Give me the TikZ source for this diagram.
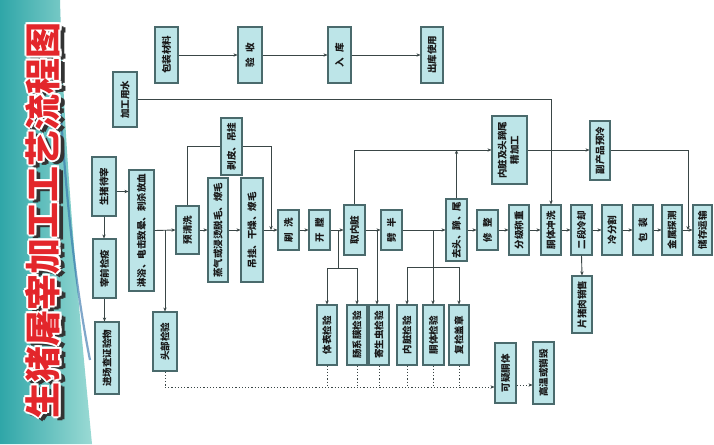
\documentclass[tikz,border=0pt]{standalone}
\usepackage{fontspec}
\setmainfont{Noto Sans CJK SC}
\usetikzlibrary{arrows.meta,calc}
\definecolor{boxfill}{HTML}{BDE5E8}
\definecolor{boxline}{HTML}{4A6A6C}
\definecolor{lin}{HTML}{3A4646}
\definecolor{tred}{HTML}{E3262B}
\definecolor{tealA}{HTML}{2FA6A8}
\definecolor{tealB}{HTML}{9ADAD4}
\definecolor{curveb}{HTML}{2C6DA8}
\newcommand\bx[6]{\node[box,minimum width={(#4)-(#2)},minimum height={(#5)-(#3)}] (#1) at ({((#2)+(#4))/2},{((#3)+(#5))/2}) {\rotatebox{90}{#6}};}
\begin{document}
\begin{tikzpicture}[x=1pt,y=-1pt,
  box/.style={draw=boxline,fill=boxfill,line width=1.1pt,inner sep=0pt,font=\fontsize{9.5}{10.5}\selectfont\bfseries,text=black!90},
  arr/.style={-{Stealth[length=4pt,width=3.4pt]}},
  ln/.style={draw=lin,line width=0.9pt},
  dt/.style={draw=lin,line width=0.9pt,dash pattern=on 1.2pt off 2pt},
  ttl/.style={rotate=90,inner sep=0pt,font=\fontsize{36}{36}\selectfont\bfseries}]
\useasboundingbox (0,0) rectangle (714,444);
\fill[white] (0,0) rectangle (714,444);
% teal band on the left
\shade[left color=tealA,right color=tealB] (0,0) -- (60,0) .. controls (64,150) and (78,300) .. (92,444) -- (0,444) -- cycle;
\draw[curveb,line width=2.2pt,opacity=0.6] (60,100) .. controls (66,200) and (76,290) .. (90,360);
% title
\foreach \dx/\dy [count=\i] in {0/0,2/1,3.5/2.5,2/3}
  \node[ttl,text=black!80] (ts\i) at (45+\dx,221+\dy) {生猪屠宰加工工艺流程图};
\foreach \dx/\dy [count=\i] in {-2/0,2/0,0/-2,0/2,-1.4/-1.4,1.4/1.4,-1.4/1.4,1.4/-1.4}
  \node[ttl,text=white] (tw\i) at (43+\dx,220+\dy) {生猪屠宰加工工艺流程图};
\node[ttl,text=tred] (title) at (43,220) {生猪屠宰加工工艺流程图};
% row 1
\bx{bao}{155}{27}{178}{83}{包装材料}
\bx{ys}{238}{27}{262}{83}{验\hspace{6pt}收}
\bx{rk}{328}{27}{351}{83}{入\hspace{6pt}库}
\bx{ck}{421}{27}{443}{83}{出库使用}
\bx{jg}{113}{72}{137}{127}{加工用水}
% left column
\bx{dz}{92}{157}{116}{216}{生猪待宰}
\bx{jy}{93}{239}{116}{298}{宰前检疫}
\bx{jc}{95}{322}{119}{394}{进场查证验物}
\bx{tb}{153}{312}{177}{371}{头部检验}
\bx{bp}{221}{118}{242}{175}{剥皮、吊挂}
% main row
\bx{linyu}{129}{170}{154}{291}{淋浴、电击致晕、刺杀放血}
\bx{yq}{176}{206}{199}{254}{预清洗}
\bx{zq}{208}{178}{228}{282}{蒸气或浸烫脱毛、燎毛}
\bx{dg}{241}{178}{263}{282}{吊挂、干燥、燎毛}
\bx{sx}{278}{210}{299}{250}{刷\hspace{6pt}洗}
\bx{kt}{309}{210}{330}{250}{开\hspace{6pt}膛}
\bx{qnz}{344}{205}{365}{255}{取内脏}
\bx{pb}{381}{210}{402}{250}{劈\hspace{6pt}半}
\bx{qt}{446}{199}{467}{261}{去头、蹄、尾}
\bx{xz}{477}{210}{498}{250}{修\hspace{6pt}整}
\bx{fj}{509}{205}{529}{255}{分级称重}
\bx{cx}{541}{205}{561}{255}{胴体冲洗}
\bx{ld}{571}{205}{592}{255}{二段冷却}
\bx{lf}{602}{205}{622}{255}{冷分割}
\bx{bz}{633}{205}{653}{255}{包\hspace{6pt}装}
\bx{js}{662}{205}{682}{255}{金属探测}
\bx{cy}{693}{205}{712}{255}{储存运输}
% upper branch
\bx{jjg}{492}{116}{527}{184}{\begin{tabular}{@{}c@{}}内脏及头蹄尾\\[1pt]精加工\end{tabular}}
\bx{ycl}{590}{121}{610}{180}{副产品预冷}
\bx{pz}{572}{276}{592}{333}{片猪肉销售}
% inspections
\bx{tbj}{317}{305}{337}{365}{体表检验}
\bx{cxm}{347}{305}{367}{365}{肠系膜检验}
\bx{jsc}{369}{305}{389}{365}{寄生虫检验}
\bx{nzj}{397}{305}{417}{365}{内脏检验}
\bx{ttj}{423}{305}{444}{365}{胴体检验}
\bx{fjg}{449}{305}{469}{365}{复检盖章}
\bx{ky}{495}{343}{516}{403}{可疑胴体}
\bx{gw}{533}{342}{554}{404}{高温或销毁}
% connectors row 1
\draw[ln,arr] (bao) -- (ys);
\draw[ln,arr] (ys) -- (rk);
\draw[ln,arr] (rk) -- (ck);
\draw[ln,arr] (jg.east) -| (cx.north);
% left column
\draw[ln,arr] (dz.south) -- (dz.south |- jy.north);
\draw[ln,arr] (jy.south) -- (jy.south |- jc.north);
\draw[ln,arr] ([yshift=-5pt]dz.east) coordinate (q1) -- (q1 -| linyu.west);
% main row
\foreach \a/\b in {linyu/yq,yq/zq,zq/dg,dg/sx,sx/kt,kt/qnz,qnz/pb,pb/qt,qt/xz,xz/fj,fj/cx,cx/ld,ld/lf,lf/bz,bz/js,js/cy}
  \draw[ln,arr] (\a.east) -- (\b.west);
% head inspection branch
\coordinate (b1) at (165,230);
\draw[ln,arr] (b1) -- (b1 |- tb.north);
% skinning branch
\draw[ln] (yq.north) |- (bp.west);
\coordinate (j1) at (271,230);
\draw[ln,arr] (bp.east) -| (j1);
% inspection branches
\coordinate (b2) at (338,230);
\coordinate (h2) at (338,268);
\draw[ln] (b2) -- (h2);
\draw[ln,arr] (h2) -| (tbj.north);
\draw[ln,arr] (h2) -| (cxm.north);
\coordinate (b3) at (377,230);
\draw[ln,arr] (b3) -- (b3 |- jsc.north);
\coordinate (b4) at (433,230);
\coordinate (h4) at (433,267);
\draw[ln] (b4) -- (h4);
\draw[ln,arr] (h4) -| (nzj.north);
\draw[ln,arr] (h4) -- (h4 |- ttj.north);
\draw[ln,arr] (h4) -| (fjg.north);
% offal branch
\draw[ln,arr] (qnz.north) |- (jjg.west);
\draw[ln,arr] (qt.north) -- (qt.north |- jjg.west);
\draw[ln,arr] (jjg.east) -- (ycl.west |- jjg.east);
\coordinate (j2) at (688,230);
\draw[ln,arr] (ycl.east) -| (j2);
\draw[ln,arr] (ld.south) -- (pz.north);
% dotted lines
\coordinate (dl) at (0,387);
\foreach \n in {tb,tbj,cxm,jsc,nzj,ttj,fjg}
  \draw[dt] (\n.south) -- (\n.south |- dl);
\draw[dt,arr] (tb.south |- dl) -- (ky.west |- dl);
\coordinate (dl2) at (0,385);
\draw[dt,arr] (ky.east |- dl2) -- (gw.west |- dl2);
\end{tikzpicture}
\end{document}
